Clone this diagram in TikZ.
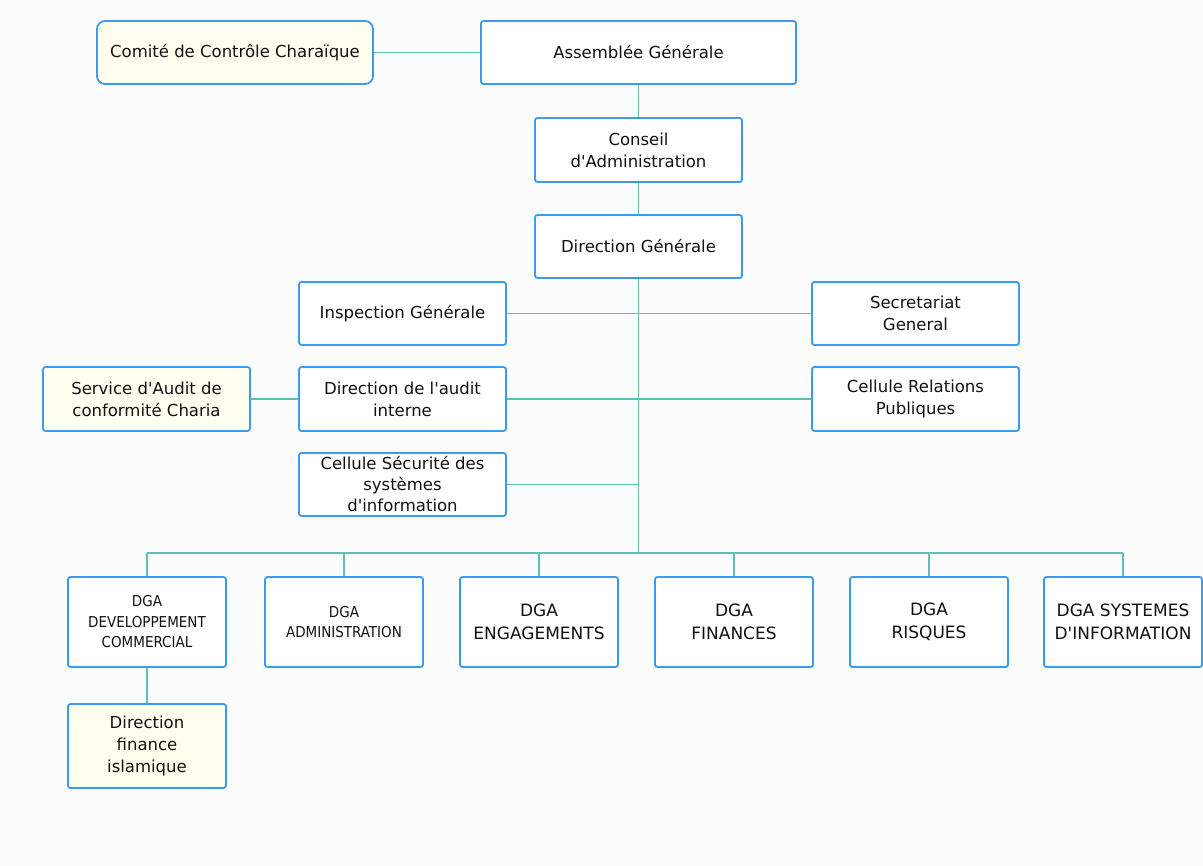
\documentclass[tikz,border=0pt]{standalone}
\usepackage{fontspec}
\setmainfont{DejaVu Sans}
\newfontfamily\narrowfont{DejaVu Sans Condensed}
\definecolor{boxline}{HTML}{3A9CF0}
\definecolor{linkline}{HTML}{62BFB4}
\definecolor{paleyellow}{HTML}{FFFFF0}
\definecolor{pagebg}{HTML}{FCFCFC}
\definecolor{txt}{HTML}{111111}
\newcommand{\q}{\textquotesingle}
\tikzset{
  unit/.style={draw=boxline,line width=1.8pt,rounded corners=2.5pt,fill=white,
    text=txt,align=center,inner sep=0pt,font=\fontsize{16.5}{22}\selectfont},
  shaded/.style={unit,fill=paleyellow},
  dgabox/.style={unit,minimum width=158,minimum height=90},
  small/.style={font=\narrowfont\fontsize{15}{20.5}\selectfont},
  big/.style={font=\fontsize{17}{23}\selectfont},
  link/.style={draw=linkline,line width=1.6pt}
}
\begin{document}
\begin{tikzpicture}[x=1pt,y=-1pt]
\fill[pagebg] (0,0) rectangle (1203,866);
\useasboundingbox (0,0) rectangle (1203,866);

% top of the chart
\node[shaded,rounded corners=8pt,minimum width=276,minimum height=63] (comite) at (235,52.5) {Comité de Contrôle Charaïque};
\node[unit,minimum width=315,minimum height=63] (assemblee) at (638.5,52.5) {Assemblée Générale};
\node[unit,minimum width=207,minimum height=64] (conseil) at (638.5,150) {Conseil\\d\q Administration};
\node[unit,minimum width=207,minimum height=63] (dg) at (638.5,246.5) {Direction Générale};

% staff units
\node[unit,minimum width=207,minimum height=63] (inspection) at (402.5,313.5) {Inspection Générale};
\node[unit,minimum width=207,minimum height=63] (secretariat) at (915.5,313.5) {Secretariat\\General};
\node[shaded,minimum width=207,minimum height=64] (serviceaudit) at (146.5,399) {Service d\q Audit de\\conformité Charia};
\node[unit,minimum width=207,minimum height=64] (audit) at (402.5,399) {Direction de l\q audit\\interne};
\node[unit,minimum width=207,minimum height=64] (relations) at (915.5,399) {Cellule Relations\\Publiques};
\node[unit,minimum width=207,minimum height=63,font=\fontsize{16.5}{21}\selectfont] (securite) at (402.5,484.5) {Cellule Sécurité des\\systèmes\\d\q information};

% DGA
\node[dgabox,small] (dga1) at (147,622) {DGA\\DEVELOPPEMENT\\COMMERCIAL};
\node[dgabox,small] (dga2) at (344,622) {DGA\\ADMINISTRATION};
\node[dgabox,big] (dga3) at (539,622) {DGA\\ENGAGEMENTS};
\node[dgabox,big] (dga4) at (734,622) {DGA\\FINANCES};
\node[dgabox,big] (dga5) at (929,622) {DGA\\RISQUES};
\node[dgabox,big] (dga6) at (1123,622) {DGA SYSTEMES\\D\q INFORMATION};
\node[shaded,minimum width=158,minimum height=84] (finislam) at (147,746) {Direction\\finance\\islamique};

\coordinate (bus) at (638.5,553);

% links
\draw[link] (comite.east) -- (assemblee.west);
\draw[link] (assemblee) -- (conseil);
\draw[link] (conseil) -- (dg);
\draw[link] (dg.south) -- (bus);
\draw[link] (inspection.east) -- (secretariat.west);
\draw[link] (serviceaudit.east) -- (audit.west);
\draw[link] (audit.east) -- (relations.west);
\draw[link] (securite.east) -- (securite.east -| dg.south);
\draw[link] (dga1.north |- bus) -- (dga6.north |- bus);
\foreach \i in {1,...,6}
  \draw[link] (dga\i.north) -- (dga\i.north |- bus);
\draw[link] (dga1) -- (finislam);
\end{tikzpicture}
\end{document}
